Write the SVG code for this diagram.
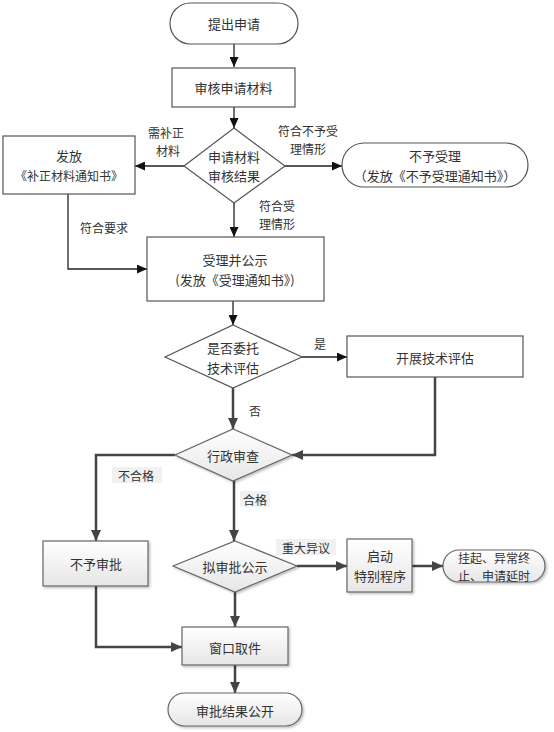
<svg xmlns="http://www.w3.org/2000/svg" width="554" height="732" viewBox="0 0 554 732">
<defs>
<style>
text{font-family:"Noto Sans CJK SC","Liberation Sans",sans-serif;font-size:13px;fill:#333;text-anchor:middle;dominant-baseline:central}
.s12{font-size:12px}
.plain{fill:#fff;stroke:#555;stroke-width:1.2}
.grad{fill:url(#g);stroke:#666;stroke-width:1.2;filter:url(#sh)}
.thin{fill:none;stroke:#222;stroke-width:1.3;marker-end:url(#a1)}
.thick{fill:none;stroke:#444;stroke-width:2.5;marker-end:url(#a2)}
.lb{fill:#f1f1f1}
</style>
<linearGradient id="g" x1="0" y1="0" x2="0" y2="1">
<stop offset="0" stop-color="#ffffff"/>
<stop offset="1" stop-color="#e6e6e6"/>
</linearGradient>
<filter id="sh" x="-10%" y="-10%" width="130%" height="140%">
<feDropShadow dx="1.5" dy="1.5" stdDeviation="1" flood-color="#000" flood-opacity="0.25"/>
</filter>
<marker id="a1" markerUnits="userSpaceOnUse" markerWidth="10" markerHeight="9" refX="10" refY="4.5" orient="auto">
<path d="M0,0 L10,4.5 L0,9 z" fill="#111"/>
</marker>
<marker id="a2" markerUnits="userSpaceOnUse" markerWidth="11" markerHeight="10" refX="11" refY="5" orient="auto">
<path d="M0,0 L11,5 L0,10 z" fill="#444"/>
</marker>
</defs>
<rect width="554" height="732" fill="#fff"/>

<g id="connectors">
<path class="thin" d="M234,44 V67"/>
<path class="thin" d="M234,107 V128"/>
<path class="thin" d="M184,166 H135"/>
<path class="thin" d="M285,166 H342"/>
<path class="thin" d="M234,203 V237"/>
<path class="thin" d="M68,194 V269 H147"/>
<path class="thin" d="M233,301 V325"/>
<path class="thin" d="M302,357 H347"/>
<path class="thick" d="M233,388 V429"/>
<path class="thick" d="M435,377 V455 H292"/>
<path class="thick" d="M175,455 H96 V541"/>
<path class="thick" d="M234,481 V541"/>
<path class="thick" d="M297,566 H347"/>
<path class="thick" d="M412,566 H443"/>
<path class="thick" d="M235,592 V627"/>
<path class="thick" d="M96,586 V647 H182"/>
<path class="thick" d="M235,665 V693"/>
<text class="s12" x="166" y="132">需补正</text>
<text class="s12" x="168" y="150">材料</text>
<text class="s12" x="308" y="130">符合不予受</text>
<text class="s12" x="308" y="148">理情形</text>
<text class="s12" x="277" y="205">符合受</text>
<text class="s12" x="277" y="223">理情形</text>
<text class="s12" x="104" y="227">符合要求</text>
<text class="s12" x="320" y="343">是</text>
<text class="s12" x="255" y="410">否</text>
<rect class="lb" x="112" y="467" width="50" height="16"/>
<text class="s12" x="136" y="475">不合格</text>
<rect class="lb" x="240" y="491" width="30" height="16"/>
<text class="s12" x="255" y="499">合格</text>
<rect class="lb" x="276" y="539" width="60" height="16"/>
<text class="s12" x="306" y="547">重大异议</text>
</g>

<g id="n1"><rect class="plain" x="170" y="3" width="128" height="41" rx="20.5"/><text x="234" y="23.5">提出申请</text></g>
<g id="n2"><rect class="plain" x="172" y="68" width="123" height="39"/><text x="233.5" y="87.5">审核申请材料</text></g>
<g id="n3"><polygon class="plain" points="234,128 285,166 234,203 184,166"/><text x="234" y="156">申请材料</text><text x="234" y="175.5">审核结果</text></g>
<g id="n4"><rect class="plain" x="3" y="136" width="132" height="58"/><text x="69" y="155">发放</text><text x="69" y="175" class="s12">《补正材料通知书》</text></g>
<g id="n5"><rect class="plain" x="342" y="143" width="186" height="44" rx="22"/><text x="435" y="155">不予受理</text><text x="435" y="175">（发放《不予受理通知书》）</text></g>
<g id="n6"><rect class="plain" x="147" y="237" width="177" height="64"/><text x="235" y="259">受理并公示</text><text x="235" y="279">(发放《受理通知书》)</text></g>
<g id="n7"><polygon class="plain" points="233,325 302,357 233,388 165,357"/><text x="233" y="347">是否委托</text><text x="233" y="367">技术评估</text></g>
<g id="n8"><rect class="plain" x="347" y="336" width="176" height="41"/><text x="435" y="357">开展技术评估</text></g>
<g id="n9"><polygon class="grad" points="233,429 292,455 233,481 175,455"/><text x="233" y="455">行政审查</text></g>
<g id="n10"><rect class="grad" x="43" y="541" width="105" height="45"/><text x="96" y="563">不予审批</text></g>
<g id="n11"><polygon class="grad" points="235,541 297,566 235,592 173,566"/><text x="235" y="566">拟审批公示</text></g>
<g id="n12"><rect class="grad" x="347" y="539" width="65" height="53"/><text x="380" y="555.5">启动</text><text x="380" y="575.5">特别程序</text></g>
<g id="n13"><rect class="grad" x="443" y="550" width="102" height="32" rx="16"/><text class="s12" x="494" y="557">挂起、异常终</text><text class="s12" x="494" y="575">止、申请延时</text></g>
<g id="n14"><rect class="grad" x="182" y="627" width="106" height="38"/><text x="235" y="647">窗口取件</text></g>
<g id="n15"><rect class="grad" x="168" y="693" width="134" height="33" rx="16.5"/><text x="235" y="710">审批结果公开</text></g>
</svg>
